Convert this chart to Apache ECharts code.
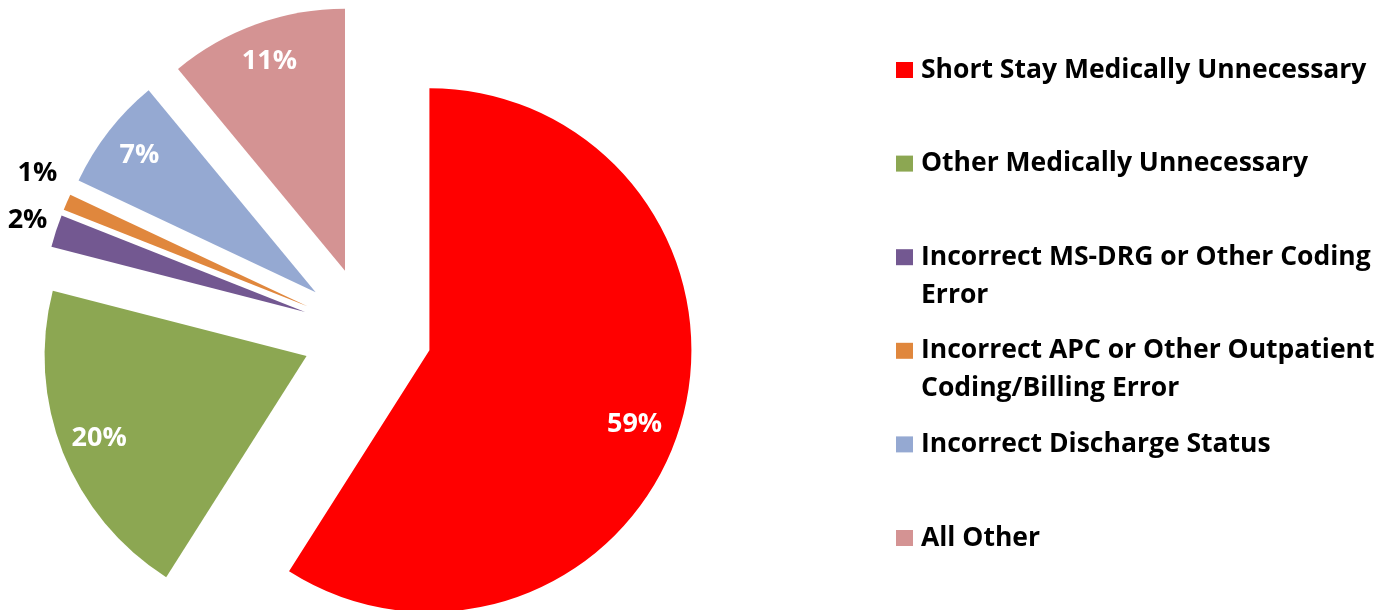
<!DOCTYPE html>
<html>
<head>
<meta charset="utf-8">
<title>Error categories</title>
<script src="https://cdn.jsdelivr.net/npm/echarts@6/dist/echarts.min.js"></script>
<style>
html, body { margin: 0; padding: 0; background: #fff; }
#main { width: 1387px; height: 610px; }
</style>
</head>
<body>
<div id="main"></div>
<script>
var categories = [
    'Short Stay Medically Unnecessary',
    'Other Medically Unnecessary',
    'Incorrect MS-DRG or Other Coding Error',
    'Incorrect APC or Other Outpatient Coding/Billing Error',
    'Incorrect Discharge Status',
    'All Other'
];
var shares = [59, 20, 2, 1, 7, 11];
// legend text wrapped the same way as the original
var legendLines = [
    ['Short Stay Medically Unnecessary'],
    ['Other Medically Unnecessary'],
    ['Incorrect MS-DRG or Other Coding', 'Error'],
    ['Incorrect APC or Other Outpatient', 'Coding/Billing Error'],
    ['Incorrect Discharge Status'],
    ['All Other']
];

var colors = ['#ff0000', '#8ca752', '#735891', '#e0873d', '#95a9d2', '#d49393'];
var font = '"Open Sans", "Noto Sans", sans-serif';
var center = [367, 332];
var explode = 65;

var myChart = echarts.init(document.getElementById('main'));

function sliceData(showLabel) {
    return categories.map(function (name, i) {
        return {
            name: name,
            value: shares[i],
            selected: true,
            label: { show: showLabel(i) }
        };
    });
}

// small slices get their label outside the pie
function isSmall(i) { return shares[i] < 5; }

var legends = categories.map(function (name, i) {
    var twoLines = legendLines[i].length > 1;
    return {
        data: [name],
        orient: 'vertical',
        left: 896,
        // the empty first line keeps the square level with the first text line
        top: twoLines ? 13 + i * 93.6 : 51 + i * 93.6,
        padding: 0,
        itemWidth: 17,
        itemHeight: 16,
        icon: 'rect',
        selectedMode: false,
        formatter: function () {
            return (twoLines ? '\n' : '') + legendLines[i].join('\n');
        },
        textStyle: {
            fontFamily: font,
            fontSize: 26.5,
            fontWeight: 'bold',
            color: '#000',
            lineHeight: 38,
            padding: [0, 0, 0, 3]
        }
    };
});

var option = {
    animation: false,
    color: colors,
    legend: legends,
    series: [{
        type: 'pie',
        center: center,
        radius: [0, 262],
        selectedMode: 'multiple',
        selectedOffset: explode,
        silent: true,
        label: { show: false },
        labelLine: { show: false },
        itemStyle: { borderWidth: 0 },
        data: sliceData(function () { return false; })
    }, {
        // label carrier for the big slices
        type: 'pie',
        center: center,
        radius: [178, 262],
        selectedMode: 'multiple',
        selectedOffset: explode,
        silent: true,
        avoidLabelOverlap: false,
        percentPrecision: 0,
        itemStyle: { color: 'rgba(0,0,0,0)', borderWidth: 0 },
        label: {
            position: 'inside',
            formatter: '{d}%',
            color: '#fff',
            fontFamily: font,
            fontSize: 27,
            fontWeight: 'bold'
        },
        labelLine: { show: false },
        labelLayout: function (params) {
            if (params.dataIndex === 0) {
                return { dx: -9, dy: 12 };
            }
        },
        data: sliceData(function (i) { return !isSmall(i); })
    }, {
        // label carrier for the thin slices
        type: 'pie',
        center: center,
        radius: [262, 318],
        selectedMode: 'multiple',
        selectedOffset: explode,
        silent: true,
        avoidLabelOverlap: false,
        percentPrecision: 0,
        itemStyle: { color: 'rgba(0,0,0,0)', borderWidth: 0 },
        label: {
            position: 'inside',
            formatter: '{d}%',
            color: '#000',
            fontFamily: font,
            fontSize: 27,
            fontWeight: 'bold'
        },
        labelLine: { show: false },
        labelLayout: function (params) {
            if (params.dataIndex === 3) {
                return { dx: -1, dy: -17 };
            }
            return { dx: 1, dy: -1 };
        },
        data: sliceData(function (i) { return isSmall(i); })
    }]
};
myChart.setOption(option);
</script>
</body>
</html>
